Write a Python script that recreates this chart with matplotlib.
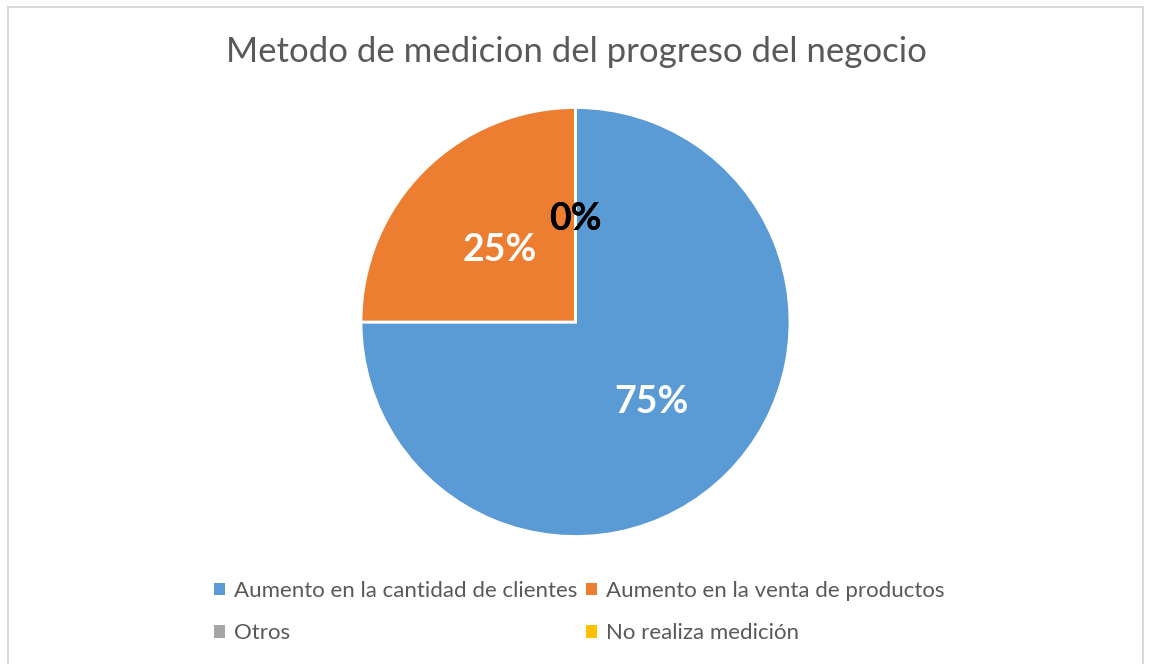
import matplotlib
matplotlib.use("Agg")
import matplotlib.pyplot as plt
from matplotlib.lines import Line2D
from matplotlib.patches import Patch

categories = ["Aumento en la cantidad de clientes", "Aumento en la venta de productos",
              "Otros", "No realiza medición"]
values = [75, 25, 0, 0]
colors = ["#5B9BD5", "#ED7D31", "#A5A5A5", "#FFC000"]
title = "Metodo de medicion del progreso del negocio"

W, H = 1149, 664
fig = plt.figure(figsize=(W / 100, H / 100), dpi=100)
plt.rcParams['font.family'] = ['Lato', 'DejaVu Sans']

# frame
fig.add_artist(Line2D([8 / W, 8 / W], [0, 1 - 7 / H], color="#D9D9D9", lw=1.5, transform=fig.transFigure))
fig.add_artist(Line2D([8 / W, 1143 / W], [1 - 7 / H, 1 - 7 / H], color="#D9D9D9", lw=1.5, transform=fig.transFigure))
fig.add_artist(Line2D([1143 / W, 1143 / W], [0, 1 - 7 / H], color="#D9D9D9", lw=1.5, transform=fig.transFigure))

cx, cy, r = 575.5, 322, 214.5
ax = fig.add_axes([(cx - r) / W, 1 - (cy + r) / H, 2 * r / W, 2 * r / H])
wedges, texts, autotexts = ax.pie(values, colors=colors, startangle=90, counterclock=False,
                                  autopct=lambda p: f"{p:.0f}%", pctdistance=0.5,
                                  wedgeprops=dict(edgecolor="white", linewidth=2),
                                  textprops=dict(fontsize=27, fontweight="bold"))
for i, t in enumerate(autotexts):
    t.set_color("white" if values[i] > 0 else "black")
    x, y = t.get_position()
    t.set_position((x, y - 0.02))
ax.set_xlim(-1, 1)
ax.set_ylim(-1, 1)
ax.set_aspect("equal")
ax.axis("off")

fig.text(576 / W, 1 - 52 / H, title, ha="center", va="center", fontsize=25, color="#595959")

order = [0, 2, 1, 3]
handles = [Patch(facecolor=colors[i], edgecolor="none") for i in order]
labels = [categories[i] for i in order]
fig.legend(handles, labels, loc="center", bbox_to_anchor=(579 / W, 1 - 612 / H), ncol=2,
           frameon=False, fontsize=16, labelcolor="#595959", handlelength=0.5, handleheight=0.5,
           handletextpad=0.4, columnspacing=0.4, labelspacing=1.0)

fig.savefig("out.png", dpi=100)
